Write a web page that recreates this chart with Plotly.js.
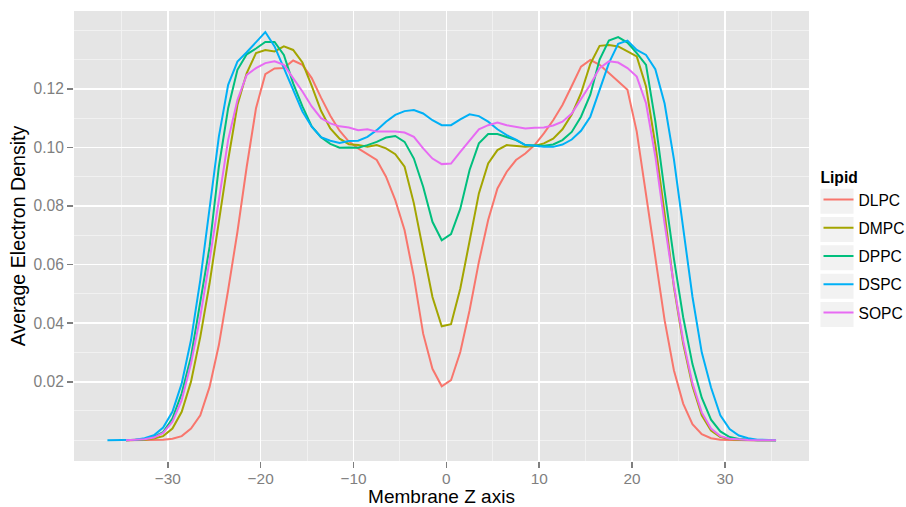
<!DOCTYPE html>
<html>
<head>
<meta charset="utf-8">
<script src="https://cdn.plot.ly/plotly-3.0.1.min.js"></script>
<style>
  html, body { margin: 0; padding: 0; background: #ffffff; }
  #chart { width: 906px; height: 507px; }
</style>
</head>
<body>
<div id="chart"></div>
<script>
// Membrane Z positions (bin centres)
const zWide = [-36.5,-35.5,-34.5,-33.5,-32.5,-31.5,-30.5,-29.5,-28.5,-27.5,-26.5,-25.5,-24.5,-23.5,-22.5,-21.5,-20.5,-19.5,-18.5,-17.5,-16.5,-15.5,-14.5,-13.5,-12.5,-11.5,-10.5,-9.5,-8.5,-7.5,-6.5,-5.5,-4.5,-3.5,-2.5,-1.5,-0.5,0.5,1.5,2.5,3.5,4.5,5.5,6.5,7.5,8.5,9.5,10.5,11.5,12.5,13.5,14.5,15.5,16.5,17.5,18.5,19.5,20.5,21.5,22.5,23.5,24.5,25.5,26.5,27.5,28.5,29.5,30.5,31.5,32.5,33.5,34.5,35.5];
const zNarrow = [-34.5,-33.5,-32.5,-31.5,-30.5,-29.5,-28.5,-27.5,-26.5,-25.5,-24.5,-23.5,-22.5,-21.5,-20.5,-19.5,-18.5,-17.5,-16.5,-15.5,-14.5,-13.5,-12.5,-11.5,-10.5,-9.5,-8.5,-7.5,-6.5,-5.5,-4.5,-3.5,-2.5,-1.5,-0.5,0.5,1.5,2.5,3.5,4.5,5.5,6.5,7.5,8.5,9.5,10.5,11.5,12.5,13.5,14.5,15.5,16.5,17.5,18.5,19.5,20.5,21.5,22.5,23.5,24.5,25.5,26.5,27.5,28.5,29.5,30.5,31.5,32.5,33.5,34.5,35.5];

const lipids = ["DLPC", "DMPC", "DPPC", "DSPC", "SOPC"];

const dlpc = [0,0,0,0.0001,0.0002,0.0005,0.0014,0.0040,0.0085,0.0182,
  0.0325,0.0513,0.0712,0.0934,0.1134,0.1250,0.1270,0.1271,0.1297,0.1282,
  0.1237,0.1170,0.1108,0.1057,0.1020,0.0997,0.0977,0.0957,0.0900,0.0820,
  0.0717,0.0558,0.0364,0.0244,0.0184,0.0205,0.0301,0.0444,0.0609,0.0752,
  0.0860,0.0917,0.0957,0.0979,0.1008,0.1048,0.1093,0.1145,0.1210,0.1276,
  0.1299,0.1282,0.1254,0.1225,0.1197,0.1054,0.0843,0.0615,0.0410,0.0239,
  0.0125,0.0055,0.0021,0.0007,0.0002,0.0001,0,0,0,0,0];

const dmpc = [0,0.0001,0.0002,0.0006,0.0014,0.0040,0.0097,0.0200,0.0353,0.0536,
  0.0741,0.0957,0.1145,0.1254,0.1322,0.1333,0.1328,0.1345,0.1333,0.1290,
  0.1210,0.1125,0.1065,0.1030,0.1011,0.1008,0.1002,0.1008,0.0997,0.0977,
  0.0934,0.0809,0.0649,0.0489,0.0389,0.0396,0.0518,0.0683,0.0843,0.0945,
  0.0991,0.1008,0.1005,0.1002,0.1005,0.1014,0.1030,0.1062,0.1112,0.1185,
  0.1285,0.1347,0.1350,0.1345,0.1328,0.1311,0.1208,0.1010,0.0775,0.0524,
  0.0330,0.0185,0.0085,0.0033,0.0011,0.0004,0.0001,0,0,0,0];

const dppc = [0,0.0001,0.0003,0.0011,0.0028,0.0074,0.0160,0.0285,0.0467,0.0660,
  0.0934,0.1134,0.1265,0.1318,0.1338,0.1360,0.1360,0.1316,0.1219,0.1140,
  0.1072,0.1035,0.1012,0.0999,0.1000,0.0999,0.1008,0.1019,0.1034,0.1039,
  0.1019,0.0962,0.0866,0.0746,0.0683,0.0704,0.0791,0.0923,0.1014,0.1046,
  0.1046,0.1036,0.1025,0.1008,0.1006,0.1006,0.1010,0.1025,0.1053,0.1105,
  0.1180,0.1300,0.1365,0.1377,0.1358,0.1322,0.1282,0.1090,0.0850,0.0620,
  0.0420,0.0260,0.0145,0.0070,0.0030,0.0011,0.0004,0.0001,0,0,0];

const dspc = [0,0,0,0.0002,0.0007,0.0017,0.0043,0.0097,0.0194,0.0342,
  0.0547,0.0792,0.1037,0.1214,0.1293,0.1325,0.1360,0.1394,0.1345,0.1270,
  0.1193,0.1123,0.1071,0.1035,0.1023,0.1015,0.1022,0.1023,0.1036,0.1059,
  0.1088,0.1111,0.1124,0.1128,0.1116,0.1093,0.1076,0.1076,0.1096,0.1113,
  0.1107,0.1088,0.1062,0.1042,0.1027,0.1008,0.1006,0.1002,0.1002,0.1010,
  0.1027,0.1057,0.1105,0.1200,0.1288,0.1354,0.1365,0.1333,0.1316,0.1267,
  0.1150,0.0960,0.0720,0.0490,0.0300,0.0180,0.0085,0.0038,0.0016,0.0007,
  0.0002,0.0001,0];

const sopc = [0,0.0001,0.0003,0.0009,0.0025,0.0063,0.0137,0.0262,0.0422,0.0615,
  0.0821,0.1026,0.1162,0.1248,0.1271,0.1288,0.1294,0.1282,0.1237,0.1191,
  0.1140,0.1100,0.1082,0.1072,0.1068,0.1059,0.1062,0.1054,0.1054,0.1054,
  0.1051,0.1036,0.0997,0.0962,0.0943,0.0945,0.0985,0.1025,0.1062,0.1076,
  0.1085,0.1076,0.1071,0.1065,0.1067,0.1068,0.1075,0.1088,0.1116,0.1165,
  0.1215,0.1271,0.1294,0.1290,0.1271,0.1242,0.1151,0.0970,0.0740,0.0530,
  0.0340,0.0195,0.0095,0.0040,0.0014,0.0005,0.0002,0.0001,0,0,0];

const yTickVals = [0.02, 0.04, 0.06, 0.08, 0.10, 0.12];
const yTickText = ["0.02", "0.04", "0.06", "0.08", "0.10", "0.12"];
const xTickVals = [-30, -20, -10, 0, 10, 20, 30];

const series = [
  { name: lipids[0], x: zNarrow, y: dlpc, color: "#F8766D" },
  { name: lipids[1], x: zNarrow, y: dmpc, color: "#A3A500" },
  { name: lipids[2], x: zNarrow, y: dppc, color: "#00BF7D" },
  { name: lipids[3], x: zWide,   y: dspc, color: "#00B0F6" },
  { name: lipids[4], x: zNarrow, y: sopc, color: "#E76BF3" }
];

const traces = series.map(s => ({
  type: "scatter",
  mode: "lines",
  name: s.name,
  legendgroup: s.name,
  x: s.x,
  y: s.y,
  line: { color: s.color, width: 2 }
}));

const FONT = "Liberation Sans, Arial, Helvetica, sans-serif";

// light grey legend key backgrounds (ggplot style), one per legend entry
const W = 906, H = 507, ML = 74, MR = 97, MT = 11, MB = 46;
const plotW = W - ML - MR, plotH = H - MT - MB;
const keyShapes = lipids.map((_, i) => {
  const cy = 201.2 + 28.33 * i;
  return {
    type: "rect", xref: "paper", yref: "paper", layer: "below",
    x0: (820.5 - ML) / plotW, x1: (853.5 - ML) / plotW,
    y0: (H - MB - (cy + 12.5)) / plotH, y1: (H - MB - (cy - 12.5)) / plotH,
    fillcolor: "#F2F2F2", line: { width: 0 }
  };
});

const layout = {
  width: W,
  height: H,
  margin: { l: ML, r: MR, t: MT, b: MB, pad: 0 },
  paper_bgcolor: "#ffffff",
  plot_bgcolor: "#E5E5E5",
  font: { family: FONT, size: 15.6, color: "#000000" },
  showlegend: true,
  legend: {
    xref: "container", yref: "container",
    x: 818.5 / W, xanchor: "left",
    y: 1 - 162.5 / H, yanchor: "top",
    bgcolor: "rgba(0,0,0,0)",
    borderwidth: 0,
    tracegroupgap: 5,
    font: { family: FONT, size: 15.6, color: "#000000" },
    title: { text: "Lipid", font: { family: FONT, size: 15.6, color: "#000000", weight: "bold" } }
  },
  shapes: keyShapes,
  xaxis: {
    range: [-40.1, 39.05],
    tickmode: "array",
    tickvals: xTickVals,
    ticks: "outside",
    ticklen: 6,
    tickwidth: 1.7,
    tickcolor: "#7F7F7F",
    ticklabelstandoff: -2,
    tickfont: { family: FONT, size: 15.4, color: "#7F7F7F" },
    showgrid: true,
    gridcolor: "#FFFFFF",
    gridwidth: 1.7,
    zeroline: false,
    showline: false,
    automargin: false,
    minor: { tickmode: "linear", tick0: 0, dtick: 5, showgrid: true, gridcolor: "#F2F2F2", gridwidth: 0.9, ticks: "" },
    title: { text: "Membrane Z axis", font: { family: FONT, size: 19, color: "#000000" }, standoff: 7 }
  },
  yaxis: {
    range: [-0.0071, 0.1466],
    tickmode: "array",
    tickvals: yTickVals,
    ticktext: yTickText,
    ticks: "outside",
    ticklen: 6,
    tickwidth: 1.7,
    tickcolor: "#7F7F7F",
    tickfont: { family: FONT, size: 15.6, color: "#7F7F7F" },
    showgrid: true,
    gridcolor: "#FFFFFF",
    gridwidth: 1.7,
    zeroline: false,
    showline: false,
    automargin: false,
    minor: { tickmode: "linear", tick0: 0, dtick: 0.01, showgrid: true, gridcolor: "#F2F2F2", gridwidth: 0.9, ticks: "" },
    title: { text: "Average Electron Density", font: { family: FONT, size: 19.6, color: "#000000" }, standoff: 2 }
  }
};

Plotly.newPlot("chart", traces, layout, { staticPlot: true, displayModeBar: false });
</script>
</body>
</html>
